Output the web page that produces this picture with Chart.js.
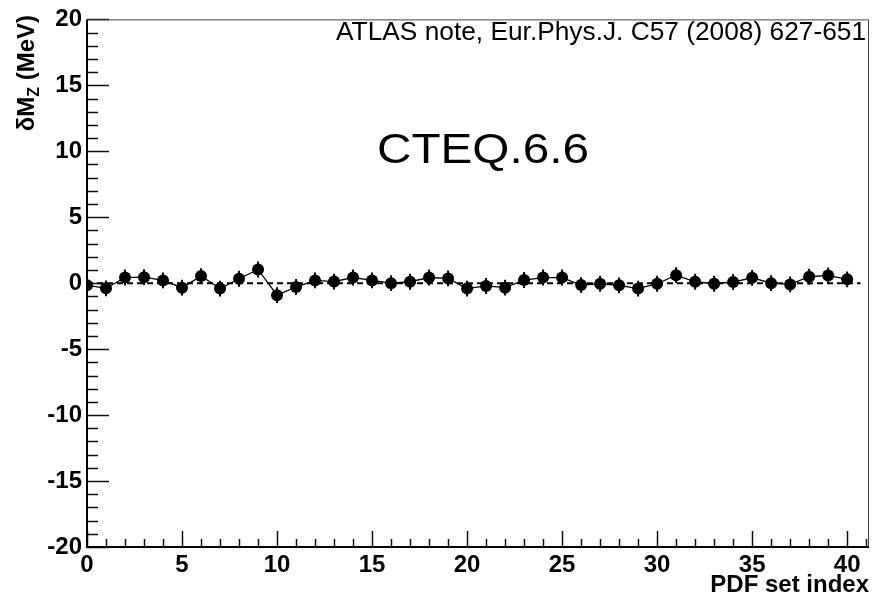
<!DOCTYPE html>
<html>
<head>
<meta charset="utf-8">
<script src="https://cdn.jsdelivr.net/npm/chart.js@4.4.1/dist/chart.umd.min.js"></script>
<style>
  html, body { margin: 0; padding: 0; background: #fff; }
  #wrap { width: 875px; height: 604px; }
</style>
</head>
<body>
<div id="wrap"><canvas id="massShiftCanvas"></canvas></div>
<script>
// PDF eigenvector sets and the resulting shift of the fitted Z mass (MeV)
const pdfIndex = [0, 1, 2, 3, 4, 5, 6, 7, 8, 9, 10, 11, 12, 13, 14, 15, 16, 17, 18, 19, 20,
    21, 22, 23, 24, 25, 26, 27, 28, 29, 30, 31, 32, 33, 34, 35, 36, 37, 38, 39, 40];
const deltaMz = [-0.15, -0.39, 0.43, 0.46, 0.21, -0.34, 0.54, -0.41, 0.34, 1.04, -0.91,
    -0.29, 0.21, 0.12, 0.43, 0.21, 0.0, 0.11, 0.43, 0.36, -0.41,
    -0.21, -0.34, 0.24, 0.43, 0.43, -0.14, -0.04, -0.16, -0.41, -0.04,
    0.61, 0.11, -0.04, 0.09, 0.41, 0.0, -0.09, 0.49, 0.59, 0.29];
const deltaMzErr = [0.6, 0.6, 0.6, 0.6, 0.6, 0.6, 0.6, 0.6, 0.6, 0.6, 0.6,
    0.6, 0.6, 0.6, 0.6, 0.6, 0.6, 0.6, 0.6, 0.6, 0.6,
    0.6, 0.6, 0.6, 0.6, 0.6, 0.6, 0.6, 0.6, 0.6, 0.6,
    0.6, 0.6, 0.6, 0.6, 0.6, 0.6, 0.6, 0.6, 0.6, 0.6];
const xTicks = [0, 5, 10, 15, 20, 25, 30, 35, 40];
const yTicks = [-20, -15, -10, -5, 0, 5, 10, 15, 20];
const xRange = [0, 41.15];
const yRange = [-20, 20];
const zeroLineX = [0, 40.7];

const FONT = '"Liberation Sans", Arial, Helvetica, sans-serif';

// text squeezed/stretched horizontally to a given width (ROOT-style latex boxes)
function fitText(ctx, text, x, y, font, width, align) {
    ctx.save();
    ctx.font = font;
    const w = ctx.measureText(text).width;
    const sx = width ? width / w : 1;
    ctx.translate(x, y);
    ctx.scale(sx, 1);
    ctx.textAlign = align || 'left';
    ctx.textBaseline = 'alphabetic';
    ctx.fillStyle = '#000';
    ctx.fillText(text, 0, 0);
    ctx.restore();
}

const frameAndTicks = {
    id: 'frameAndTicks',
    beforeDatasetsDraw(chart) {
        const { ctx, chartArea: a, scales: { x, y } } = chart;
        ctx.save();
        ctx.strokeStyle = '#111';
        ctx.lineWidth = 1.5;
        ctx.beginPath();
        // y axis: major every 5, minor every 1
        for (let v = yRange[0]; v <= yRange[1]; v++) {
            const py = Math.round(y.getPixelForValue(v)) + 0.5;
            const len = v % 5 === 0 ? 22 : 11;
            ctx.moveTo(a.left, py);
            ctx.lineTo(a.left + len, py);
        }
        // x axis: major every 5, minor every 1
        for (let v = 0; v <= Math.floor(xRange[1]); v++) {
            const px = Math.round(x.getPixelForValue(v)) + 0.5;
            const len = v % 5 === 0 ? 16 : 8;
            ctx.moveTo(px, a.bottom);
            ctx.lineTo(px, a.bottom - len);
        }
        ctx.stroke();

        // error bars
        ctx.strokeStyle = '#000';
        ctx.lineWidth = 2;
        ctx.beginPath();
        for (let i = 0; i < pdfIndex.length; i++) {
            const px = x.getPixelForValue(pdfIndex[i]);
            ctx.moveTo(px, y.getPixelForValue(deltaMz[i] - deltaMzErr[i]));
            ctx.lineTo(px, y.getPixelForValue(deltaMz[i] + deltaMzErr[i]));
        }
        ctx.stroke();
        ctx.restore();
    },
    afterDraw(chart) {
        const { ctx, chartArea: a } = chart;
        ctx.save();
        // frame
        ctx.strokeStyle = '#444';
        ctx.lineWidth = 1;
        ctx.strokeRect(a.left + 0.5, a.top + 0.5, a.right - a.left - 1, a.bottom - a.top);
        ctx.strokeStyle = '#000';
        ctx.lineWidth = 2;
        ctx.beginPath();
        ctx.moveTo(a.left, a.top);
        ctx.lineTo(a.left, a.bottom);
        ctx.lineTo(a.right, a.bottom);
        ctx.stroke();

        // annotations
        fitText(ctx, 'ATLAS note, Eur.Phys.J. C57 (2008) 627-651', 866, 40,
            '25px ' + FONT, 530, 'right');
        fitText(ctx, 'CTEQ.6.6', 377, 163, '42px ' + FONT, 212, 'left');

        // x title
        ctx.fillStyle = '#000';
        ctx.font = 'bold 24px ' + FONT;
        ctx.textAlign = 'right';
        ctx.textBaseline = 'alphabetic';
        ctx.fillText('PDF set index', 869, 592);

        // y title, rotated, aligned to the top of the frame
        ctx.translate(34, 15);
        ctx.rotate(-Math.PI / 2);
        const big = 'bold 24px ' + FONT;
        const sub = 'bold 16px ' + FONT;
        ctx.font = big;
        const w1 = ctx.measureText('\u03b4M').width;
        const w3 = ctx.measureText(' (MeV)').width;
        ctx.font = sub;
        const w2 = ctx.measureText('Z').width;
        let cx = -(w1 + w2 + w3);
        ctx.textAlign = 'left';
        ctx.font = big;
        ctx.fillText('\u03b4M', cx, 0);
        cx += w1;
        ctx.font = sub;
        ctx.fillText('Z', cx, 5);
        cx += w2;
        ctx.font = big;
        ctx.fillText(' (MeV)', cx, 0);
        ctx.restore();
    }
};

function initMassShiftChart() {
    const ctx = document.getElementById('massShiftCanvas').getContext('2d');
    new Chart(ctx, {
        type: 'scatter',
        data: {
            datasets: [
                {
                    label: 'zero',
                    data: zeroLineX.map(v => ({ x: v, y: 0 })),
                    showLine: true,
                    pointRadius: 0,
                    borderColor: '#000',
                    borderWidth: 2,
                    borderDash: [6, 4]
                },
                {
                    label: 'CTEQ.6.6',
                    data: pdfIndex.map((v, i) => ({ x: v, y: deltaMz[i] })),
                    showLine: true,
                    pointRadius: 6,
                    pointStyle: 'circle',
                    pointBackgroundColor: '#000',
                    pointBorderWidth: 0,
                    borderColor: '#000',
                    borderWidth: 1.3
                }
            ]
        },
        options: {
            responsive: true,
            maintainAspectRatio: false,
            animation: false,
            parsing: false,
            layout: { padding: { left: 0, top: 14, right: 6, bottom: 0 } },
            plugins: {
                legend: { display: false },
                tooltip: { enabled: false }
            },
            scales: {
                x: {
                    type: 'linear',
                    min: xRange[0],
                    max: xRange[1],
                    grid: { display: false, drawTicks: false },
                    border: { display: false },
                    afterBuildTicks: s => { s.ticks = xTicks.map(v => ({ value: v })); },
                    afterFit: s => { s.height = 57; },
                    ticks: {
                        padding: 4,
                        color: '#000',
                        maxRotation: 0,
                        font: { family: FONT, size: 24, weight: 'bold' }
                    }
                },
                y: {
                    min: yRange[0],
                    max: yRange[1],
                    grid: { display: false, drawTicks: false },
                    border: { display: false },
                    afterBuildTicks: s => { s.ticks = yTicks.map(v => ({ value: v })); },
                    afterFit: s => { s.width = 87; },
                    ticks: {
                        padding: 5,
                        color: '#000',
                        font: { family: FONT, size: 24, weight: 'bold' }
                    }
                }
            }
        },
        plugins: [frameAndTicks]
    });
}

if (typeof Chart !== 'undefined') {
    initMassShiftChart();
} else {
    window.addEventListener('load', initMassShiftChart);
}
</script>
</body>
</html>
